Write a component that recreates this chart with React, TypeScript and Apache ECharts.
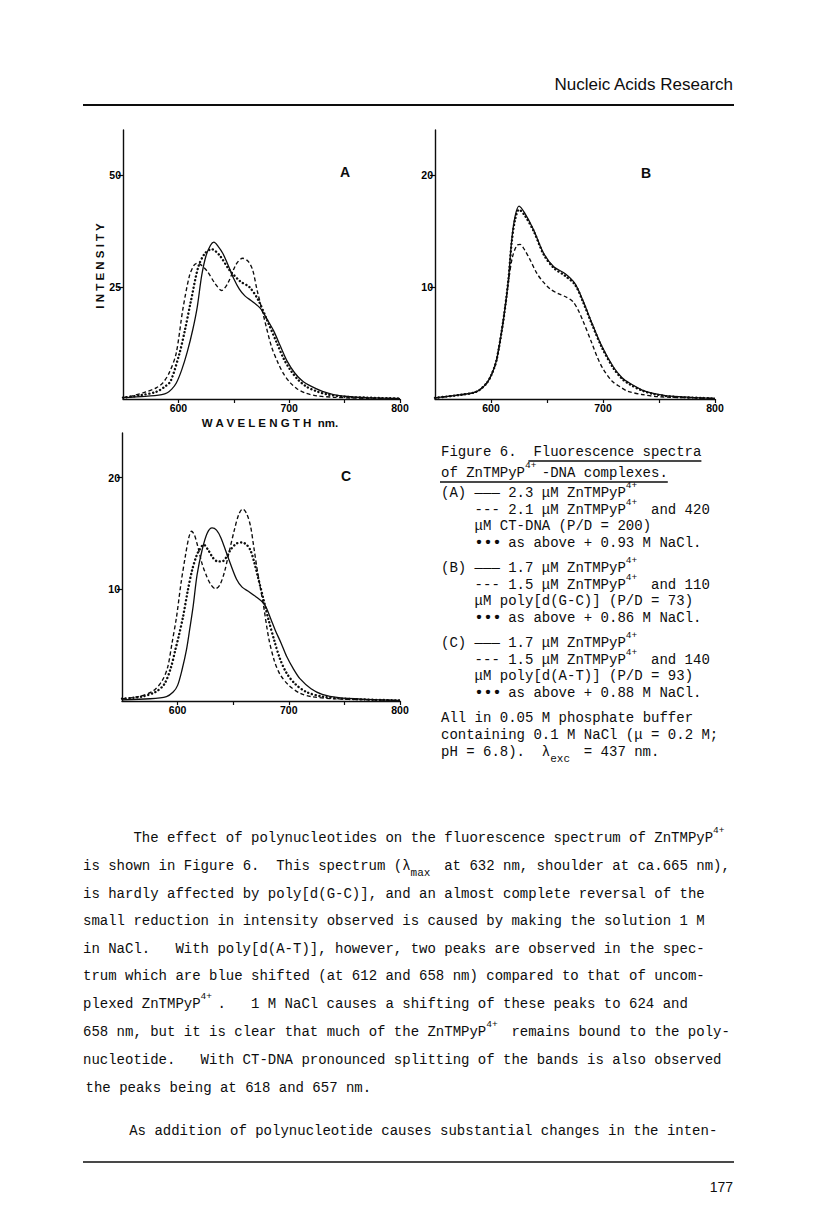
import React, { useEffect, useRef } from "react";
import * as echarts from "echarts";

// ---------------- Data (wavelength nm / intensity) ----------------
// Panel A (CT-DNA)
const aSolidWl = [550, 570, 585, 590, 594, 598, 603, 608, 613, 617, 621, 625, 629, 632, 636, 640, 645, 650, 655, 660, 667, 674, 680, 686, 692, 698, 705, 712, 720, 730, 740, 755, 770, 800];
const aSolidI = [0.3, 0.6, 1.0, 1.4, 2.2, 3.5, 6.5, 10.5, 15.5, 20.5, 27.5, 32.0, 34.3, 35.0, 34.0, 32.5, 29.8, 26.8, 24.5, 23.0, 21.7, 20.2, 17.8, 15.2, 11.8, 8.5, 5.8, 4.0, 2.8, 1.7, 1.0, 0.5, 0.3, 0.1];
const aDashWl = [550, 560, 571, 580, 586, 592, 598, 604, 610, 614, 617, 621, 626, 633, 639, 645, 652, 658, 663, 667, 671, 677, 684, 690, 695, 701, 707, 715, 725, 740, 760, 800];
const aDashI = [0.3, 0.8, 1.6, 2.5, 3.6, 6.0, 10.2, 20.0, 27.5, 29.8, 30.3, 29.8, 28.5, 25.8, 24.2, 26.0, 30.0, 31.4, 30.7, 28.8, 24.3, 18.4, 11.7, 8.0, 5.6, 3.6, 2.3, 1.3, 0.7, 0.4, 0.2, 0.1];
const aDotWl = [550, 565, 580, 588, 593, 601, 606, 611, 618, 624, 630, 637, 646, 656, 664, 672, 680, 689, 695, 701, 708, 716, 725, 735, 750, 770, 800];
const aDotI = [0.3, 0.8, 1.6, 2.8, 4.0, 10.2, 15.5, 21.5, 29.5, 32.5, 33.4, 32.1, 28.8, 26.2, 25.0, 22.1, 17.6, 12.4, 9.0, 6.5, 4.3, 2.7, 1.7, 1.0, 0.5, 0.3, 0.1];

// Panel B (poly[d(G-C)])
const bSolidWl = [550, 572, 587, 596, 601, 605, 611, 615.5, 618.5, 621.5, 625, 630, 638, 647, 656, 666, 675, 682, 690, 699, 709, 717, 724, 735, 745, 760, 800];
const bSolidI = [0.1, 0.36, 0.65, 1.4, 2.3, 3.5, 7.0, 10.6, 14.2, 16.3, 17.2, 16.6, 15.1, 13.0, 11.8, 11.2, 10.3, 8.8, 6.8, 4.7, 2.9, 1.9, 1.4, 0.8, 0.5, 0.25, 0.05];
const bDotWl = [550, 572, 587, 596, 601, 605, 611, 615.5, 618.5, 621.5, 625, 630, 638, 647, 656, 666, 675, 682, 690, 699, 709, 717, 724, 735, 745, 760, 800];
const bDotI = [0.1, 0.36, 0.65, 1.4, 2.3, 3.5, 7.0, 10.6, 14.0, 16.0, 16.9, 16.4, 15.0, 12.9, 11.7, 11.0, 10.2, 8.7, 6.7, 4.6, 2.8, 1.8, 1.3, 0.75, 0.45, 0.22, 0.05];
const bDashWl = [550, 572, 587, 596, 601, 605, 611, 615.5, 619, 623, 626, 630, 635, 641, 647, 653, 660, 667, 673, 678, 682, 690, 695, 700, 708, 715, 722, 735, 750, 800];
const bDashI = [0.1, 0.36, 0.65, 1.4, 2.3, 3.5, 7.0, 10.4, 12.6, 13.7, 13.8, 13.3, 12.4, 11.2, 10.4, 9.8, 9.4, 9.1, 8.7, 7.9, 7.0, 5.0, 3.7, 2.7, 1.6, 1.1, 0.7, 0.4, 0.2, 0.05];

// Panel C (poly[d(A-T)])
const cSolidWl = [550, 575, 590, 596, 600, 604, 608, 611, 614, 617.5, 622, 626.5, 631, 635, 639, 646, 653, 658, 664, 671, 677, 680, 684, 688, 693, 698, 704, 710, 720, 730, 745, 770, 800];
const cSolidI = [0.1, 0.2, 0.4, 0.8, 1.4, 2.8, 4.6, 6.5, 8.5, 11.3, 13.5, 15.0, 15.5, 15.3, 14.6, 12.7, 10.9, 10.2, 9.8, 9.3, 8.8, 8.3, 7.3, 6.3, 5.2, 4.0, 2.9, 2.0, 1.1, 0.6, 0.3, 0.15, 0.05];
const cDashWl = [550, 565, 578, 586, 591, 595, 599, 603, 607, 610, 612.5, 615, 618, 622, 626, 630, 634, 638, 642, 646, 651, 655, 658.5, 662, 665.5, 668.5, 672, 677, 682, 687, 692, 700, 710, 720, 740, 800];
const cDashI = [0.2, 0.4, 0.9, 1.8, 3.0, 5.2, 7.5, 10.5, 13.0, 14.6, 15.2, 14.9, 13.9, 12.3, 11.2, 10.4, 10.05, 10.4, 11.5, 13.2, 15.3, 16.7, 17.2, 16.8, 15.7, 13.8, 11.5, 8.7, 5.6, 3.6, 2.4, 1.4, 0.7, 0.4, 0.2, 0.05];
const cDotWl = [550, 568, 580, 588, 594, 598, 601, 605, 609, 613, 617, 620, 623.5, 627, 632, 636, 640, 644, 648, 653, 658, 662, 665.5, 669, 672, 677.5, 682, 687, 692, 698, 706, 716, 730, 750, 800];
const cDotI = [0.2, 0.4, 0.8, 1.5, 3.0, 4.6, 5.8, 7.6, 9.8, 11.7, 13.0, 13.6, 14.0, 13.6, 12.8, 12.5, 12.5, 12.9, 13.6, 14.1, 14.2, 14.0, 13.5, 12.4, 11.2, 9.0, 7.2, 5.4, 3.8, 2.5, 1.5, 0.8, 0.4, 0.2, 0.05];

// Axis ticks / labels
const xTickValues = [600, 650, 700, 750, 800];
const xLabelValues = [600, 700, 800];
const aYValues = [25, 50];
const bcYValues = [10, 20];
const panelLetters = ["A", "B", "C"];

// Page texts
const headerText = "Nucleic Acids Research";
const pageNumber = "177";
const yAxisTitle = "I N T E N S I T Y";
const xAxisTitle = "W A V E L E N G T H  nm.";

type Seg = [number, string, string?];

const captionLines: Seg[][] = [
  [[0, "Figure 6."], [11, "Fluorescence spectra"]],
  [[0, "of ZnTMPyP"], [10, "4+", "sup"], [12, "-DNA complexes."]],
  [[0, "(A) ——— 2.3 μM ZnTMPyP"], [22, "4+", "sup"]],
  [[4, "--- 2.1 μM ZnTMPyP"], [22, "4+", "sup"], [25, "and 420"]],
  [[4, "μM CT-DNA (P/D = 200)"]],
  [[4, "•••", "bold"], [8, "as above + 0.93 M NaCl."]],
  [[0, "(B) ——— 1.7 μM ZnTMPyP"], [22, "4+", "sup"]],
  [[4, "--- 1.5 μM ZnTMPyP"], [22, "4+", "sup"], [25, "and 110"]],
  [[4, "μM poly[d(G-C)] (P/D = 73)"]],
  [[4, "•••", "bold"], [8, "as above + 0.86 M NaCl."]],
  [[0, "(C) ——— 1.7 μM ZnTMPyP"], [22, "4+", "sup"]],
  [[4, "--- 1.5 μM ZnTMPyP"], [22, "4+", "sup"], [25, "and 140"]],
  [[4, "μM poly[d(A-T)] (P/D = 93)"]],
  [[4, "•••", "bold"], [8, "as above + 0.88 M NaCl."]],
  [[0, "All in 0.05 M phosphate buffer"]],
  [[0, "containing 0.1 M NaCl (μ = 0.2 M;"]],
  [[0, "pH = 6.8)."], [12, "λ"], [13, "exc", "sub"], [17, "= 437 nm."]],
];
const captionY = [452, 473, 493, 510, 526, 543, 568, 585, 601, 618, 643, 660, 676, 693, 718, 735, 752];

const bodyLines: Seg[][] = [
  [[6, "The effect of polynucleotides on the fluorescence spectrum of ZnTMPyP"], [75, "4+", "sup"]],
  [[0, "is shown in Figure 6."], [23, "This spectrum (λ"], [39, "max", "sub"], [43, "at 632 nm, shoulder at ca.665 nm),"]],
  [[0, "is hardly affected by poly[d(G-C)], and an almost complete reversal of the"]],
  [[0, "small reduction in intensity observed is caused by making the solution 1 M"]],
  [[0, "in NaCl."], [11, "With poly[d(A-T)], however, two peaks are observed in the spec-"]],
  [[0, "trum which are blue shifted (at 612 and 658 nm) compared to that of uncom-"]],
  [[0, "plexed ZnTMPyP"], [14, "4+", "sup"], [16, "."], [20, "1 M NaCl causes a shifting of these peaks to 624 and"]],
  [[0, "658 nm, but it is clear that much of the ZnTMPyP"], [48, "4+", "sup"], [51, "remains bound to the poly-"]],
  [[0, "nucleotide."], [14, "With CT-DNA pronounced splitting of the bands is also observed"]],
  [[0.3, "the peaks being at 618 and 657 nm."]],
  [[5.5, "As addition of polynucleotide causes substantial changes in the inten-"]],
];
const bodyY = [838, 866, 894, 921, 949, 976, 1004, 1032, 1060, 1088, 1131];

// ---------------- Styling ----------------
const INK = "#0d0d0d";
const MONO = '"Liberation Mono", "DejaVu Sans Mono", monospace';
const SANS = '"Liberation Sans", Arial, sans-serif';
const MONO_SIZE = 14;
const CW = MONO_SIZE * 0.6;

const solidStyle = { color: INK, width: 1.3, type: "solid" };
const dashStyle = { color: INK, width: 1.35, type: [4, 2.6] };
const dotStyle = { color: INK, width: 2.4, type: [0.1, 3.7], cap: "round" };

function pairs(wl: number[], v: number[]) {
  return wl.map((w, i) => [w, v[i]]);
}

function textEl(x: number, y: number, text: string, opts: any = {}) {
  const align = opts.align || "left";
  const va = opts.va || "middle";
  return {
    type: "text",
    x,
    y,
    rotation: opts.rotation || 0,
    silent: true,
    style: {
      text,
      fill: opts.fill || INK,
      fontSize: opts.size || MONO_SIZE,
      fontFamily: opts.family || MONO,
      fontWeight: opts.weight || "normal",
      align,
      verticalAlign: va,
      textAlign: align,
      textVerticalAlign: va,
    },
  };
}

function segLine(x0: number, y: number, segs: Seg[]) {
  return segs.map(([col, t, kind]) => {
    const x = x0 + col * CW;
    if (kind === "sup") return textEl(x, y - 7.5, t, { size: 9.5 });
    if (kind === "sub") return textEl(x, y + 7, t, { size: 11 });
    if (kind === "bold") return textEl(x, y, t, { weight: "bold", size: 15 });
    return textEl(x, y, t);
  });
}

function xAxis(gridIndex: number) {
  return {
    gridIndex,
    type: "value",
    min: 550,
    max: 800,
    interval: 50,
    axisLine: { show: true, onZero: false, lineStyle: { color: INK, width: 1.4 } },
    axisTick: { show: true, length: 4, inside: false, customValues: xTickValues, lineStyle: { color: INK, width: 1.2 } },
    axisLabel: { show: true, customValues: xLabelValues, margin: 3, color: "#000", fontFamily: SANS, fontWeight: "bold", fontSize: 10.5 },
    splitLine: { show: false },
  };
}

function yAxis(gridIndex: number, max: number, interval: number, vals: number[]) {
  return {
    gridIndex,
    type: "value",
    min: 0,
    max,
    interval,
    axisLine: { show: true, lineStyle: { color: INK, width: 1.4 } },
    axisTick: { show: true, length: 5, inside: false, customValues: vals, lineStyle: { color: INK, width: 1.2 } },
    axisLabel: { show: true, customValues: vals, margin: 2, color: "#000", fontFamily: SANS, fontWeight: "bold", fontSize: 10.5 },
    splitLine: { show: false },
  };
}

function lineSeries(idx: number, wl: number[], v: number[], style: any) {
  return {
    type: "line",
    xAxisIndex: idx,
    yAxisIndex: idx,
    data: pairs(wl, v),
    symbol: "none",
    showSymbol: false,
    smooth: 0.3,
    silent: true,
    lineStyle: style,
  };
}

export default function App() {
  const ref = useRef<HTMLDivElement>(null);

  useEffect(() => {
    if (!ref.current) return;
    const chart = echarts.init(ref.current, undefined, { renderer: "svg" });

    const graphics: any[] = [];
    // header
    graphics.push(textEl(733, 84, headerText, { family: SANS, size: 17, align: "right" }));
    graphics.push({ type: "line", silent: true, shape: { x1: 83, y1: 105, x2: 734, y2: 105 }, style: { stroke: INK, lineWidth: 2 } });
    // panel letters
    graphics.push(textEl(345, 172, panelLetters[0], { family: SANS, size: 14, weight: "bold", align: "center" }));
    graphics.push(textEl(646, 173, panelLetters[1], { family: SANS, size: 14, weight: "bold", align: "center" }));
    graphics.push(textEl(346, 476, panelLetters[2], { family: SANS, size: 14, weight: "bold", align: "center" }));
    // axis titles (panel A)
    graphics.push(textEl(100, 266, yAxisTitle, { family: SANS, size: 11.5, weight: "bold", align: "center", rotation: Math.PI / 2 }));
    graphics.push(textEl(270, 423, xAxisTitle, { family: SANS, size: 11.5, weight: "bold", align: "center" }));
    // caption
    const cx0 = 441;
    captionLines.forEach((segs, i) => graphics.push(...segLine(cx0, captionY[i], segs)));
    graphics.push({ type: "line", silent: true, shape: { x1: cx0 + 10.4 * CW, y1: captionY[0] + 9, x2: cx0 + 31 * CW, y2: captionY[0] + 9 }, style: { stroke: INK, lineWidth: 1.3 } });
    graphics.push({ type: "line", silent: true, shape: { x1: cx0 - 1, y1: captionY[1] + 9, x2: cx0 + 27 * CW, y2: captionY[1] + 9 }, style: { stroke: INK, lineWidth: 1.3 } });
    // body
    const bx0 = 83;
    bodyLines.forEach((segs, i) => graphics.push(...segLine(bx0, bodyY[i], segs)));
    // footer
    graphics.push({ type: "line", silent: true, shape: { x1: 83, y1: 1162, x2: 734, y2: 1162 }, style: { stroke: INK, lineWidth: 1.6 } });
    graphics.push(textEl(733, 1187, pageNumber, { family: SANS, size: 14, align: "right" }));

    chart.setOption({
      animation: false,
      backgroundColor: "#ffffff",
      grid: [
        { left: 123, top: 130, width: 277, height: 269, outerBoundsMode: "none", containLabel: false },
        { left: 435, top: 130, width: 280, height: 269, outerBoundsMode: "none", containLabel: false },
        { left: 122, top: 433, width: 278, height: 268, outerBoundsMode: "none", containLabel: false },
      ],
      xAxis: [xAxis(0), xAxis(1), xAxis(2)],
      yAxis: [yAxis(0, 60, 25, aYValues), yAxis(1, 24, 10, bcYValues), yAxis(2, 24, 10, bcYValues)],
      series: [
        lineSeries(0, aSolidWl, aSolidI, solidStyle),
        lineSeries(0, aDashWl, aDashI, dashStyle),
        lineSeries(0, aDotWl, aDotI, dotStyle),
        lineSeries(1, bSolidWl, bSolidI, solidStyle),
        lineSeries(1, bDashWl, bDashI, dashStyle),
        lineSeries(1, bDotWl, bDotI, dotStyle),
        lineSeries(2, cSolidWl, cSolidI, solidStyle),
        lineSeries(2, cDashWl, cDashI, dashStyle),
        lineSeries(2, cDotWl, cDotI, dotStyle),
      ],
      graphic: graphics,
    });

    return () => chart.dispose();
  }, []);

  return (
    <div
      ref={ref}
      style={{ position: "absolute", left: 0, top: 0, width: 816, height: 1223, background: "#fff" }}
    />
  );
}
